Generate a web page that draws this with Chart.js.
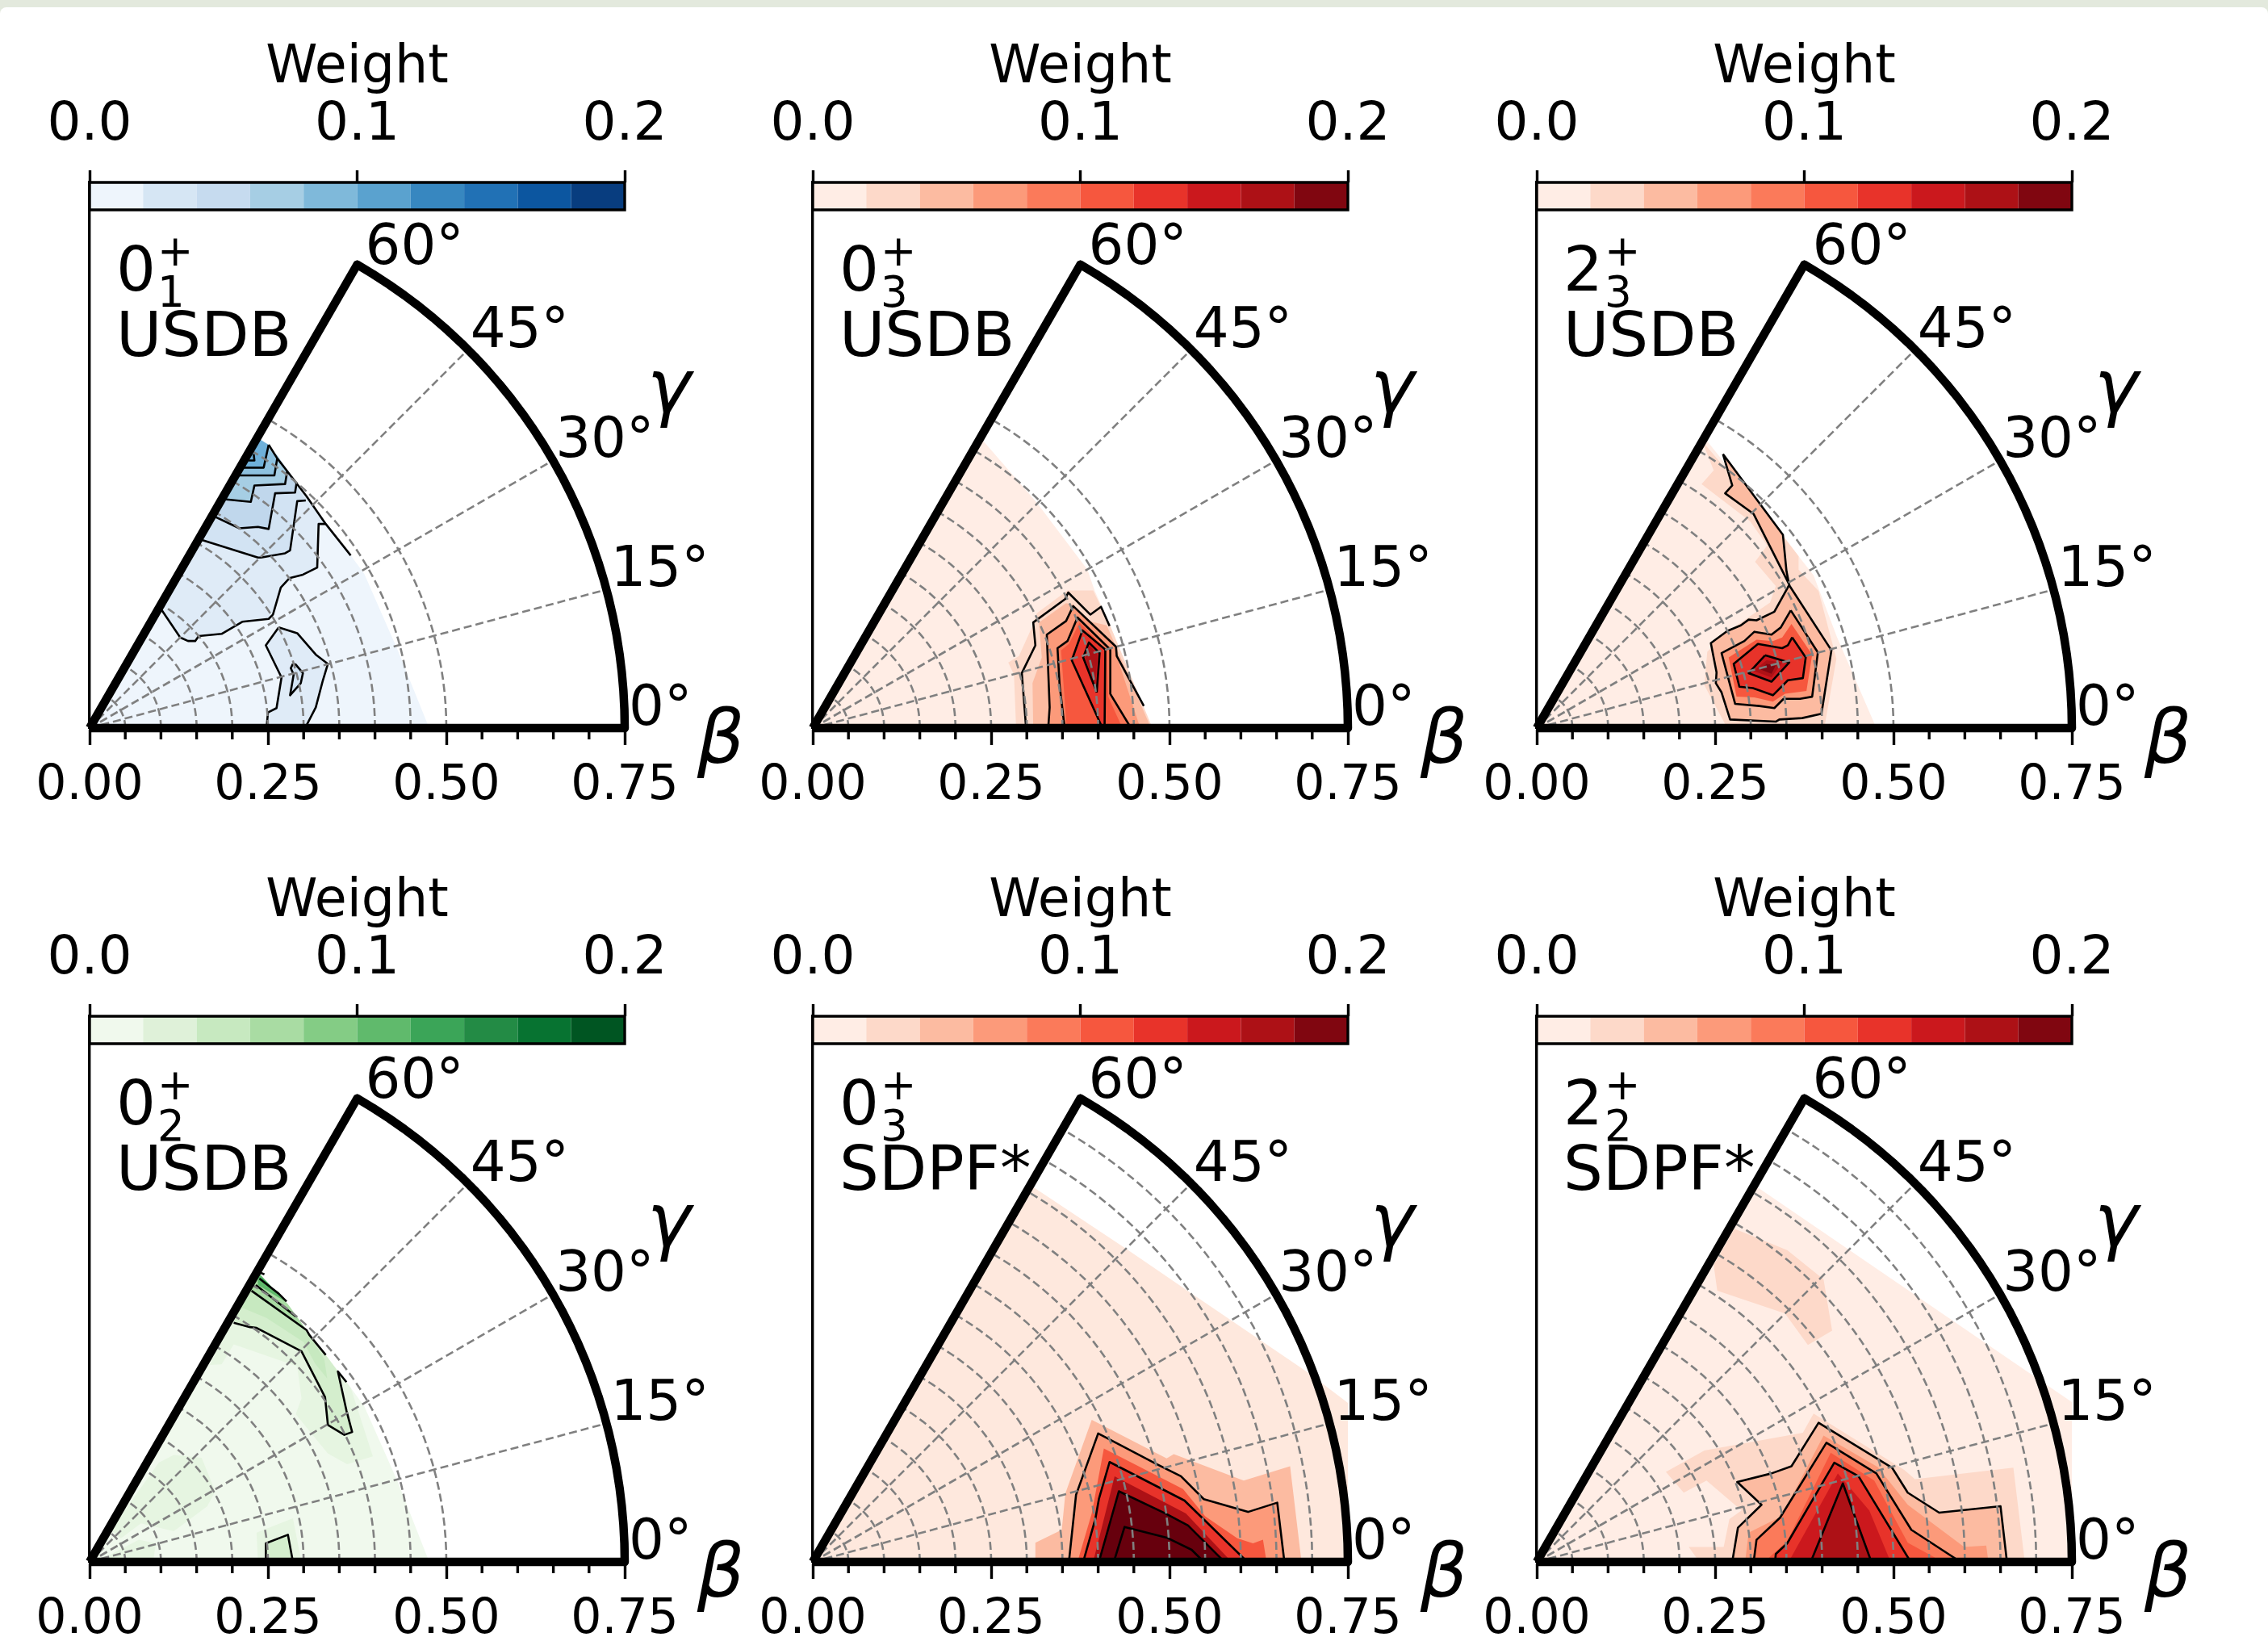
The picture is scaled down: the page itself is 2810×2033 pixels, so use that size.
<!DOCTYPE html>
<html>
<head>
<meta charset="utf-8">
<script src="https://cdn.jsdelivr.net/npm/chart.js@4.4.4/dist/chart.umd.js"></script>
<style>
  html, body { margin: 0; padding: 0; background: #e3e9dd; }
  #page { position: absolute; left: 0; top: 9px; width: 2810px; height: 2024px; background: #fff; border-radius: 8px 8px 0 0; }
  canvas { position: absolute; }
</style>
</head>
<body>
<div id="page"></div>
<script>
// axis ticks
const betaLabels = [0, 0.25, 0.5, 0.75];
const betaMinor = [0.05, 0.1, 0.15, 0.2, 0.3, 0.35, 0.4, 0.45, 0.55, 0.6, 0.65, 0.7];
const gammaTicks = [0, 15, 30, 45, 60];
const weightLevels = [0, 0.02, 0.04, 0.06, 0.08, 0.1, 0.12, 0.14, 0.16, 0.18, 0.2];

const stateNumber = ['0', '0', '2', '0', '0', '2'];
const stateIndex = ['1', '3', '3', '2', '3', '2'];
const modelName = ['USDB', 'USDB', 'USDB', 'USDB', 'SDPF*', 'SDPF*'];
const ringMaxBeta = [0.5, 0.5, 0.5, 0.5, 0.7, 0.7];

const blues = ['#eef5fc', '#d6e6f4', '#c6dbef', '#a6cee4', '#7fb9da', '#5aa2cf', '#3787c0', '#2171b5', '#0c56a0', '#083d7f'];
const reds = ['#ffede5', '#fdd9c9', '#fcbba1', '#fc9a7a', '#fb7a5a', '#f6573e', '#e8332a', '#cb181d', '#ad1116', '#800610'];
const greens = ['#f0f9ed', '#dff1d9', '#c7e9c0', '#a9dca3', '#84cc85', '#60ba6c', '#3ba558', '#238b45', '#077331', '#005522'];

// panel 1: 0+1 USDB
const p1Fills = [
  [[0,0],[.235,.407],[.263,.382],[.304,.325],[.366,.242],[.385,.216],[.432,.109],[.476,0]],
  [[.098,.170],[.127,.127],[.138,.122],[.148,.122],[.153,.129],[.185,.132],[.214,.149],[.251,.153],[.257,.159],[.268,.197],[.280,.210],[.299,.215],[.319,.225],[.321,.286],[.331,.286],[.304,.325],[.263,.382],[.235,.407]],
  [[.265,.141],[.291,.133],[.317,.103],[.334,.090],[.327,.067],[.317,.029],[.302,0],[.248,0],[.250,.022],[.262,.028],[.269,.071],[.247,.116]],
  [[.285,.090],[.289,.089],[.299,.077],[.296,.063],[.281,.046],[.286,.075],[.282,.084]],
  [[.153,.265],[.236,.239],[.240,.239],[.274,.245],[.281,.249],[.291,.318],[.303,.319],[.263,.382],[.235,.407]],
  [[.172,.298],[.210,.280],[.236,.282],[.251,.279],[.260,.329],[.288,.330],[.290,.343],[.263,.382],[.235,.407]],
  [[.186,.321],[.226,.317],[.231,.340],[.274,.342],[.277,.360],[.263,.382],[.235,.407]],
  [[.205,.354],[.259,.354],[.263,.378],[.235,.407]],
  [[.211,.365],[.244,.365],[.251,.397],[.235,.407]]
];
const p1FillShades = ['#eef5fc', '#dfebf7', '#dfebf7', '#d2e3f3', '#d2e3f3', '#c0d7ec', '#a6cee4', '#8ec1df', '#6fb0d9'];
const p1Lines = [
  [[.098,.170],[.127,.127],[.138,.122],[.148,.122],[.153,.129],[.185,.132],[.214,.149],[.251,.153],[.257,.159],[.268,.197],[.280,.210],[.299,.215],[.319,.225],[.321,.286],[.331,.286]],
  [[.265,.141],[.291,.133],[.317,.103],[.334,.090],[.327,.067],[.317,.029],[.302,0],[.248,0],[.250,.022],[.262,.028],[.269,.071],[.247,.116],[.265,.141]],
  [[.285,.090],[.289,.089],[.299,.077],[.296,.063],[.281,.046],[.286,.075],[.282,.084],[.285,.090]],
  [[.153,.265],[.236,.239],[.240,.239],[.274,.245],[.281,.249],[.291,.318],[.303,.319]],
  [[.172,.298],[.210,.280],[.236,.282],[.251,.279],[.260,.329],[.288,.330],[.290,.343]],
  [[.186,.321],[.226,.317],[.231,.340],[.274,.342],[.277,.360]],
  [[.205,.354],[.259,.354],[.263,.378]],
  [[.211,.365],[.244,.365],[.251,.397]],
  [[.223,.375],[.231,.375],[.230,.384]],
  [[.251,.397],[.263,.378],[.277,.360],[.290,.343],[.304,.325],[.331,.286],[.366,.242]]
];

// panel 2: 0+3 USDB
const p2Fills = [
  [[0,0],[.235,.407],[.314,.316],[.385,.222],[.395,.193],[.417,.143],[.476,0]],
  [[.274,.092],[.289,.101],[.308,.143],[.314,.161],[.357,.193],[.393,.193],[.417,.143],[.476,0],[.285,0],[.282,.075]],
  [[.309,0],[.308,.063],[.321,.099],[.317,.148],[.355,.175],[.365,.173],[.387,.150],[.412,.144],[.425,.114],[.474,0]],
  [[.331,0],[.332,.029],[.328,.131],[.355,.150],[.365,.171],[.425,.114],[.426,.101],[.459,0]],
  [[.353,0],[.343,.112],[.357,.122],[.371,.155],[.417,.110],[.417,.048],[.446,0]],
  [[.356,0],[.348,.109],[.359,.118],[.374,.148],[.412,.109],[.414,.044],[.434,0]],
  [[.406,0],[.363,.095],[.378,.137],[.410,.110],[.409,0]],
  [[.398,.050],[.379,.099],[.387,.120],[.402,.105]],
  [[.396,.058],[.382,.099],[.388,.116],[.399,.103]]
];
const p2FillShades = [reds[0], reds[1], reds[2], reds[3], reds[4], reds[5], reds[6], reds[7], reds[8]];
const p2Lines = [
  [[.299,0],[.293,.077],[.312,.116],[.309,.148],[.354,.181],[.358,.190],[.389,.159],[.404,.170],[.416,.143]],
  [[.330,0],[.332,.029],[.328,.131],[.355,.150],[.365,.171],[.425,.114],[.426,.101],[.464,.031]],
  [[.353,0],[.346,.060],[.343,.112],[.357,.122],[.371,.155],[.417,.110],[.417,.048],[.446,0]],
  [[.406,0],[.363,.095],[.378,.137],[.410,.110],[.409,0]],
  [[.398,.050],[.379,.099],[.387,.120],[.402,.105],[.398,.050]]
];

// panel 3: 2+3 USDB
const p3Outer = [[.261,.384],[.274,.340],[.264,.329],[.304,.300],[.354,.201],[.333,.163],[.308,.151],[.297,.152],[.286,.144],[.267,.136],[.244,.119],[.252,.078],[.251,.063],[.259,.050],[.271,.012],[.335,.009],[.340,.012],[.372,.014],[.399,.020],[.413,.109],[.354,.200],[.350,.220],[.345,.271],[.261,.384]];
const p3Mid = [[.356,.165],[.394,.106],[.386,.044],[.369,.041],[.346,.041],[.333,.028],[.312,.031],[.278,.034],[.259,.105],[.291,.122],[.305,.135],[.329,.131],[.342,.141],[.356,.165]];
const p3Inner = [[.358,.127],[.377,.099],[.373,.070],[.352,.067],[.331,.046],[.303,.056],[.284,.058],[.276,.090],[.310,.118],[.344,.112],[.352,.116],[.358,.127]];
const p3Core = [[.320,.102],[.354,.092],[.329,.065],[.297,.077],[.320,.102]];
const p3Fills = [
  [[0,0],[.235,.407],[.344,.271],[.367,.241],[.388,.214],[.421,.127],[.476,0]],
  [[.232,.402],[.248,.361],[.231,.342],[.299,.290],[.323,.256],[.306,.233],[.335,.199],[.327,.176],[.267,.135],[.239,.107],[.235,.060],[.267,0],[.403,0],[.420,.097],[.395,.192],[.367,.222],[.367,.241],[.344,.271]],
  p3Outer,
  p3Mid,
  [[.357,.146],[.386,.103],[.378,.052],[.348,.048],[.331,.037],[.305,.043],[.280,.044],[.269,.099],[.308,.124],[.331,.122],[.344,.127]],
  p3Inner,
  p3Core,
  [[.322,.095],[.344,.092],[.329,.071],[.304,.080]],
  [[.322,.090],[.335,.088],[.329,.076],[.314,.082]]
];
const p3FillShades = [reds[0], reds[1], reds[2], reds[3], reds[5], reds[6], reds[7], reds[8], reds[9]];
const p3Lines = [p3Outer, p3Mid, p3Inner, p3Core];

// panel 4: 0+2 USDB
const p4Fills = [
  [[0,0],[.235,.407],[.304,.325],[.366,.244],[.385,.218],[.432,.112],[.476,0]],
  [[.168,.276],[.185,.277],[.202,.305],[.291,.274],[.297,.229],[.289,.207],[.334,.152],[.361,.137],[.397,.148],[.366,.244],[.304,.325],[.235,.407]],
  [[.097,.139],[.118,.150],[.157,.146],[.176,.099],[.165,.078],[.118,.043],[.072,.054],[.044,.033],[.030,.045]],
  [[.010,0],[.069,.031],[.093,.026],[.089,0]],
  [[.234,.041],[.285,.061],[.297,0],[.236,0]],
  [[.202,.335],[.225,.329],[.234,.328],[.297,.295],[.330,.231],[.334,.192],[.357,.178],[.368,.182],[.360,.212],[.348,.267],[.331,.290],[.304,.325],[.235,.407]],
  [[.247,.026],[.278,.038],[.285,0],[.248,0]],
  [[.212,.357],[.248,.342],[.300,.308],[.316,.278],[.333,.257],[.329,.284],[.308,.318],[.235,.407]],
  [[.227,.380],[.304,.325],[.278,.361],[.235,.407]],
  [[.236,.388],[.274,.365],[.235,.407]],
  [[.236,.400],[.243,.397],[.276,.365],[.238,.397]]
];
const p4FillShades = [greens[0], '#e6f5e1', '#e6f5e1', '#e6f5e1', '#e6f5e1', '#d4eecd', '#d4eecd', greens[2], greens[3], greens[5], greens[6]];
const p4Lines = [
  [[.202,.335],[.225,.329],[.234,.328],[.297,.295],[.330,.231],[.334,.192],[.357,.178],[.368,.182],[.360,.212],[.348,.267],[.360,.252]],
  [[.227,.380],[.304,.325],[.308,.318],[.331,.290]],
  [[.233,.388],[.289,.344]],
  [[.238,.397],[.265,.376],[.276,.365]],
  [[.240,.405],[.245,.403]],
  [[.247,0],[.247,.026],[.278,.038],[.285,0]]
];

// panel 5: 0+3 SDPF*
const p5Fills = [
  [[0,0],[.305,.528],[.442,.437],[.531,.376],[.693,.266],[.751,.222],[.751,0]],
  [[.312,0],[.312,.027],[.349,.045],[.354,.096],[.391,.199],[.496,.145],[.506,.151],[.604,.114],[.669,.134],[.685,0]],
  [[.359,0],[.369,.094],[.400,.180],[.482,.137],[.516,.120],[.548,.088],[.610,.070],[.651,.083],[.661,0]],
  [[.371,0],[.391,.068],[.408,.159],[.519,.102],[.550,.064],[.595,.033],[.617,.026],[.631,.031],[.636,0]],
  [[.379,0],[.396,.060],[.401,.088],[.416,.140],[.521,.086],[.609,0]],
  [[.393,0],[.423,.120],[.523,.068],[.587,0]],
  [[.401,0],[.429,.099],[.494,.068],[.526,.051],[.577,0]]
];
const p5FillShades = ['#fee8dd', reds[2], reds[3], reds[5], reds[6], reds[8], '#67000d'];
const p5Lines = [
  [[.359,0],[.369,.094],[.400,.180],[.482,.137],[.516,.120],[.548,.088],[.610,.070],[.651,.083],[.661,0]],
  [[.379,0],[.396,.060],[.401,.088],[.416,.140],[.521,.086],[.609,0]],
  [[.401,0],[.429,.099],[.494,.068],[.526,.051],[.577,0]],
  [[.422,0],[.437,.049],[.496,.034],[.531,.017],[.548,0]]
];

// panel 6: 2+2 SDPF*
const p6Fills = [
  [[0,0],[.305,.528],[.753,.222],[.751,0]],
  [[.277,.467],[.351,.437],[.402,.396],[.414,.324],[.380,.304],[.348,.348],[.253,.380],[.248,.416]],
  [[.181,.126],[.235,.156],[.373,.181],[.388,.208],[.515,.129],[.530,.116],[.668,.132],[.684,0],[.228,0],[.213,.021],[.262,.021],[.270,.060],[.287,.072],[.238,.114],[.206,.097]],
  [[.274,0],[.282,.048],[.315,.080],[.281,.112],[.329,.124],[.357,.134],[.395,.195],[.498,.132],[.520,.097],[.564,.069],[.650,.078],[.659,0]],
  [[.292,0],[.297,.041],[.343,.064],[.402,.177],[.478,.133],[.520,.080],[.599,.021],[.630,.023],[.633,0]],
  [[.304,0],[.308,.031],[.341,.062],[.406,.167],[.476,.124],[.525,.045],[.594,0]],
  [[.319,0],[.351,.029],[.412,.153],[.473,.114],[.520,.027],[.569,0]],
  [[.334,0],[.335,.011],[.351,.026],[.417,.139],[.451,.120],[.524,0]],
  [[.353,0],[.422,.124],[.466,.072],[.496,0]],
  [[.384,0],[.429,.110],[.469,0]]
];
const p6FillShades = [reds[0], reds[1], reds[1], reds[2], reds[3], reds[4], reds[5], reds[6], reds[7], reds[8]];
const p6Lines = [
  [[.274,0],[.282,.048],[.315,.080],[.281,.112],[.329,.124],[.357,.134],[.395,.195],[.498,.132],[.520,.097],[.564,.069],[.650,.078],[.659,0]],
  [[.304,0],[.308,.031],[.341,.062],[.406,.167],[.476,.124],[.525,.045],[.594,0]],
  [[.334,0],[.335,.011],[.351,.026],[.417,.139],[.451,.120],[.524,0]],
  [[.384,0],[.429,.110],[.469,0]]
];

const panelFills = [p1Fills, p2Fills, p3Fills, p4Fills, p5Fills, p6Fills];
const panelShades = [p1FillShades, p2FillShades, p3FillShades, p4FillShades, p5FillShades, p6FillShades];
const panelLines = [p1Lines, p2Lines, p3Lines, p4Lines, p5Lines, p6Lines];
const panelRamps = [blues, reds, reds, greens, reds, reds];

// page layout, in pixels
const originX = [111, 1007, 1904, 111, 1007, 1904];
const originY = [902, 902, 902, 1935, 1935, 1935];
const areaW = 663, areaH = 676, canvasW = 960;
const yMax = 0.7647, cbBottom = 0.7262;
const font = '"DejaVu Sans"';
Chart.defaults.font.family = font;

const toPts = pts => pts.map(p => ({ x: p[0], y: p[1] }));
const rad = d => d * Math.PI / 180;

function lineSet(pts, color, width, extra) {
  return Object.assign({
    data: toPts(pts), showLine: true, fill: false, borderColor: color, borderWidth: width,
    pointRadius: 0, tension: 0, borderJoinStyle: 'round'
  }, extra || {});
}

function arcPts(beta, from, to) {
  const out = [];
  for (let g = from; g <= to; g += 2) out.push([beta * Math.cos(rad(g)), beta * Math.sin(rad(g))]);
  return out;
}

function buildDatasets(i) {
  const sets = [];
  panelFills[i].forEach((poly, k) => {
    sets.push(lineSet(poly, 'transparent', 0, { fill: 'shape', backgroundColor: panelShades[i][k] }));
  });
  panelLines[i].forEach(l => sets.push(lineSet(l, '#000', 2.6)));

  // dashed grid
  const dash = { borderDash: [10, 5] };
  for (let b = 1; b * 0.05 <= ringMaxBeta[i] + 1e-6; b++) {
    sets.push(lineSet(arcPts(b * 0.05, 0, 60), '#808080', 2.6, dash));
  }
  gammaTicks.slice(1, 4).forEach(g => {
    sets.push(lineSet([[0, 0], [0.75 * Math.cos(rad(g)), 0.75 * Math.sin(rad(g))]], '#808080', 2.6, dash));
  });

  // colorbar
  weightLevels.slice(0, -1).forEach((lo, k) => {
    const hi = weightLevels[k + 1];
    sets.push(lineSet([[lo, cbBottom], [hi, cbBottom], [hi, yMax], [lo, yMax]], 'transparent', 0,
      { fill: 'shape', backgroundColor: panelRamps[i][k], xAxisID: 'x2' }));
  });
  sets.push(lineSet([[0, cbBottom], [0.2, cbBottom], [0.2, yMax], [0, yMax], [0, cbBottom]], '#000', 3.4,
    { xAxisID: 'x2', clip: false, borderJoinStyle: 'miter' }));

  // wedge outline
  const wedge = [[0, 0]].concat(arcPts(0.75, 0, 60), [[0.375, 0.6495], [0, 0]]);
  sets.push(lineSet(wedge, '#000', 10.5, { clip: false }));

  sets.forEach((s, k) => { s.order = sets.length - k; });
  return sets;
}

const decorPlugin = {
  id: 'decor',
  afterDraw(chart, args, opts) {
    const c = chart.ctx, x = chart.scales.x, y = chart.scales.y;
    const i = opts.panel;
    const ox = x.getPixelForValue(0), oy = y.getPixelForValue(0);
    c.save();
    // minor beta ticks
    c.strokeStyle = '#000'; c.lineWidth = 3.4;
    betaMinor.forEach(b => {
      const px = x.getPixelForValue(b);
      c.beginPath(); c.moveTo(px, oy); c.lineTo(px, oy + 14); c.stroke();
    });
    c.fillStyle = '#000';
    c.textBaseline = 'alphabetic'; c.textAlign = 'left';
    // gamma tick labels
    const offs = [[5, -4], [5, -4], [3, -4], [3, -3], [10, -1]];
    c.font = '69px ' + font;
    gammaTicks.forEach((g, k) => {
      const px = x.getPixelForValue(0.75 * Math.cos(rad(g)));
      const py = y.getPixelForValue(0.75 * Math.sin(rad(g)));
      c.fillText(g + '°', px + offs[k][0], py + offs[k][1]);
    });
    // state label
    c.font = '77px ' + font;
    c.fillText(stateNumber[i], ox + 33, oy - 542);
    c.fillText(modelName[i], ox + 33, oy - 461);
    c.font = '53px ' + font;
    c.fillText('+', ox + 84, oy - 573);
    c.fillText(stateIndex[i], ox + 84, oy - 522);
    // axis names
    c.textAlign = 'center'; c.textBaseline = 'middle';
    c.font = 'italic 92px ' + font;
    c.fillText('γ', ox + 718, oy - 415);
    c.fillText('β', ox + 782, oy + 19);
    c.restore();
  }
};

originX.forEach((ox, i) => {
  const top = i < 3 ? 0 : 1033;
  const canvasH = i < 3 ? 1030 : 1000;
  const cv = document.createElement('canvas');
  cv.width = canvasW; cv.height = canvasH;
  cv.style.left = (ox - 111) + 'px';
  cv.style.top = top + 'px';
  cv.style.width = canvasW + 'px';
  cv.style.height = canvasH + 'px';
  document.body.appendChild(cv);
  const bottomH = canvasH - (originY[i] - top);
  new Chart(cv, {
    type: 'scatter',
    data: { datasets: buildDatasets(i) },
    plugins: [decorPlugin],
    options: {
      responsive: false,
      animation: false,
      events: [],
      layout: { autoPadding: false, padding: { left: 0, top: 0, bottom: 0, right: canvasW - 111 - areaW } },
      plugins: { legend: { display: false }, tooltip: { enabled: false }, decor: { panel: i } },
      scales: {
        x: {
          type: 'linear', position: 'bottom', min: 0, max: 0.75,
          afterBuildTicks: s => { s.ticks = betaLabels.map(v => ({ value: v })); },
          afterFit: s => { s.height = bottomH; },
          grid: { drawOnChartArea: false, tickLength: 21, tickWidth: 3.4, tickColor: '#000' },
          border: { color: '#000', width: 3 },
          ticks: { color: '#000', font: { size: 60 }, padding: 15, maxRotation: 0, autoSkip: false, callback: v => v.toFixed(2) }
        },
        x2: {
          type: 'linear', position: 'top', min: 0, max: 0.2,
          afterBuildTicks: s => { s.ticks = [0, 0.1, 0.2].map(v => ({ value: v })); },
          afterFit: s => { s.height = 226; },
          grid: { drawOnChartArea: false, tickLength: 15, tickWidth: 3.4, tickColor: '#000' },
          border: { display: false },
          title: { display: true, text: 'Weight', color: '#000', font: { size: 65 }, padding: { top: 46, bottom: 0 } },
          ticks: { color: '#000', font: { size: 66 }, padding: 16, maxRotation: 0, autoSkip: false, callback: v => v.toFixed(1) }
        },
        y: {
          type: 'linear', position: 'left', min: 0, max: yMax,
          afterFit: s => { s.width = 111; },
          grid: { drawOnChartArea: false, drawTicks: false },
          border: { color: '#000', width: 3.4 },
          ticks: { display: false }
        }
      }
    }
  });
});
</script>
</body>
</html>
